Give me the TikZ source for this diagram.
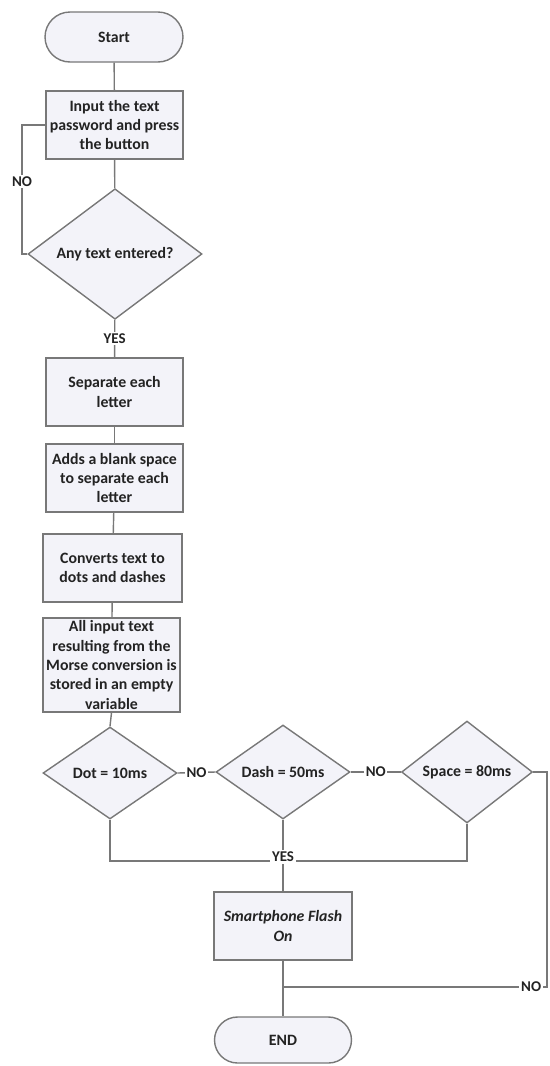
\documentclass[tikz,border=0pt]{standalone}
\usepackage{fontspec}
\setmainfont{Carlito}
\usetikzlibrary{shapes.geometric,shapes.misc}
\definecolor{flowline}{RGB}{120,120,120}
\definecolor{flowfill}{RGB}{243,243,249}
\definecolor{flowtext}{RGB}{35,35,35}

\begin{document}
\begin{tikzpicture}[x=0.02cm,y=-0.02cm]
\tikzstyle{every node}+=[inner sep=0pt,font=\fontsize{9}{11}\selectfont\bfseries,text=flowtext]
\tikzstyle{term}=[draw=flowline,fill=flowfill,line width=0.8pt,rounded rectangle,minimum width=2.76cm,minimum height=1cm]
\tikzstyle{proc}=[draw=flowline,fill=flowfill,line width=0.8pt,rectangle,align=center,minimum width=2.74cm,minimum height=1.36cm]
\tikzstyle{decision}=[draw=flowline,fill=flowfill,line width=0.8pt,diamond,minimum width=2.68cm,minimum height=1.84cm]
\tikzstyle{lbl}=[fill=white,inner sep=1pt,font=\fontsize{8.5}{10}\selectfont\bfseries]
\tikzstyle{link}=[draw=flowline,line width=0.8pt]
\useasboundingbox (0,0) rectangle (549,1066);
\node [term] (start) at (114,37) {Start};
\node [proc] (input) at (114.5,125) {Input the text\\password and press\\the button};
\node [decision,minimum width=3.48cm,minimum height=2.56cm] (entered) at (115,254) {Any text entered?};
\node [proc] (split) at (114.5,392) {Separate each\\letter};
\node [proc] (blank) at (114.5,478) {Adds a blank space\\to separate each\\letter};
\node [proc,minimum width=2.78cm] (convert) at (112.5,568) {Converts text to\\dots and dashes};
\node [proc,minimum height=1.88cm] (store) at (111.5,665) {All input text\\resulting from the\\Morse conversion is\\stored in an empty\\variable};
\node [decision] (dot) at (110,773) {Dot = 10ms};
\node [decision] (dash) at (283,772) {Dash = 50ms};
\node [decision,minimum width=2.62cm] (space) at (467,772) {Space = 80ms};
\node [proc,minimum width=2.76cm] (flash) at (283,926) {\itshape Smartphone Flash\\\itshape On};
\node [term,minimum width=2.74cm,minimum height=0.92cm] (end) at (283,1040) {END};
\coordinate (noleft) at (22,254);
\coordinate (merge) at (283,861);
\coordinate (r1) at (547,772);
\coordinate (r2) at (547,987);
\coordinate (back) at (283,987);
\draw [link] (start) -- (input);
\draw [link] (input) -- (entered);
\draw [link] (entered.west) -- (noleft) |- node [lbl,pos=0.28] {NO} (input.west);
\draw [link] (entered) -- node [lbl] {YES} (split);
\draw [link] (split) -- (blank);
\draw [link] (blank) -- (convert);
\draw [link] (convert) -- (store);
\draw [link] (store.south) -- (dot.north);
\draw [link] (dot.east) -- node [lbl] {NO} (dash.west);
\draw [link] (dash.east) -- node [lbl] {NO} (space.west);
\draw [link] (dot.south) |- (merge);
\draw [link] (space.south) |- (merge);
\draw [link] (dash.south) -- (flash.north);
\draw [link] (flash.south) -- (end.north);
\draw [link] (space.east) -- (r1) -- (r2) -- node [lbl,pos=0.06] {NO} (back);
\node [lbl] at (283,857) {YES};
\end{tikzpicture}
\end{document}
